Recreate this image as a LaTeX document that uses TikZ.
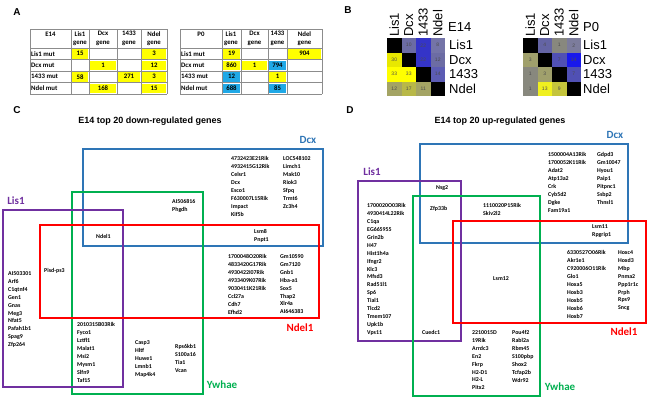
\documentclass[tikz,border=0pt]{standalone}
\usepackage{fontspec}
\setmainfont{Carlito}
\newfontfamily\arialfont{Liberation Sans}
\usetikzlibrary{positioning}
\definecolor{dcxc}{HTML}{2E75B6}
\definecolor{lisc}{HTML}{7030A0}
\definecolor{ywc}{HTML}{00B050}
\definecolor{ndc}{HTML}{FF0000}
\definecolor{hiy}{HTML}{FFFF00}
\definecolor{hib}{HTML}{1FA8E6}
\definecolor{gridc}{HTML}{8C8C8C}
% heat-map shades
\definecolor{hmA}{HTML}{6C6CA4}
\definecolor{hmB}{HTML}{3434C8}
\definecolor{hmC}{HTML}{7474A8}
\definecolor{hmD}{HTML}{E8E800}
\definecolor{hmE}{HTML}{5C5CB4}
\definecolor{hmF}{HTML}{A4A464}
\definecolor{hmG}{HTML}{B8B848}
\definecolor{hmH}{HTML}{88887E}
\definecolor{hmI}{HTML}{7C7C9C}
\definecolor{hmJ}{HTML}{A0A06C}
\definecolor{hmK}{HTML}{5050B4}
\definecolor{hmL}{HTML}{1818EC}
\definecolor{hmM}{HTML}{F0F020}
\definecolor{hmN}{HTML}{C4C43C}
\definecolor{hmO}{HTML}{6464A4}
\tikzset{
  panel/.style={font=\arialfont\bfseries\fontsize{10}{12}\selectfont,inner sep=0pt},
  ptitle/.style={font=\arialfont\bfseries\fontsize{9}{11}\selectfont,inner sep=0pt},
  tgrid/.style={draw=gridc,line width=0.5pt},
  tcell/.style={font=\bfseries\fontsize{6.8}{8.5}\selectfont,inner sep=0pt,align=center},
  rlab/.style={tcell,anchor=west},
  mcell/.style={minimum size=14.5pt,inner sep=0pt,font=\arialfont\fontsize{5}{5}\selectfont,text=black!70},
  mlab/.style={font=\arialfont\fontsize{13}{14}\selectfont,inner sep=0pt,anchor=west},
  mcol/.style={mlab,rotate=90},
  venn/.style={line width=1.8pt},
  glist/.style={font=\bfseries\fontsize{5.9}{7.9}\selectfont,align=left,inner sep=0pt,anchor=north west},
  vlab/.style={font=\bfseries\fontsize{11}{12}\selectfont,inner sep=0pt},
}

\begin{document}
\begin{tikzpicture}[x=1pt,y=-1pt]
  \useasboundingbox[fill=white] (0,0) rectangle (650,400);
  \node[panel] (pA) at (17,12) {A};
  \node[panel] (pB) at (348,10) {B};
  \node[panel] (pC) at (17,110) {C};
  \node[panel] (pD) at (350,110) {D};

  % table E14
  \foreach \xl/\xr/\yt/\v/\f [count=\i] in {71/89/48/15/hiy,141/167/48/3/hiy,89/117/59.5/1/hiy,
      141/167/59.5/12/hiy,71/89/71/58/hiy,117/141/71/271/hiy,141/167/71/3/hiy,89/117/82.5/168/hiy,
      141/167/82.5/15/hiy}{
    \fill[\f] (\xl+1,\yt+1) rectangle (\xr-1,\yt+10.5);
    \node[tcell] (ev\i) at ({(\xl+\xr)/2},\yt+5.75) {\v};
  }
  \foreach \x in {30,71,89,117,141,167} \draw[tgrid] (\x,29) -- (\x,94);
  \foreach \y in {29,48,59.5,71,82.5,94} \draw[tgrid] (30,\y) -- (167,\y);
  \node[tcell] (eh) at (50.5,34) {E14};
  \foreach \x/\g [count=\i] in {80/Lis1,103/Dcx,129/1433,154/Ndel}
    \node[tcell] (eg\i) at (\x,38.5) {\g\\gene};
  \foreach \y/\g [count=\i] in {53.75/Lis1,65.25/Dcx,76.75/1433,88.25/Ndel}
    \node[rlab] (em\i) at (31,\y) {\g{} mut};

  % table P0
  \foreach \xl/\xr/\yt/\v/\f [count=\i] in {222/241/48/19/hiy,287/322/48/904/hiy,222/241/59.5/860/hiy,
      241/268/59.5/1/hiy,268/287/59.5/794/hib,222/241/71/12/hib,268/287/71/1/hiy,222/241/82.5/688/hib,
      268/287/82.5/85/hib}{
    \fill[\f] (\xl+1,\yt+1) rectangle (\xr-1,\yt+10.5);
    \node[tcell] (pv\i) at ({(\xl+\xr)/2},\yt+5.75) {\v};
  }
  \foreach \x in {180,222,241,268,287,322} \draw[tgrid] (\x,29) -- (\x,94);
  \foreach \y in {29,48,59.5,71,82.5,94} \draw[tgrid] (180,\y) -- (322,\y);
  \node[tcell] (ph) at (201,34) {P0};
  \foreach \x/\g [count=\i] in {231/Lis1,254.5/Dcx,277.5/1433,304.5/Ndel}
    \node[tcell] (pg\i) at (\x,38.5) {\g\\gene};
  \foreach \y/\g [count=\i] in {53.75/Lis1,65.25/Dcx,76.75/1433,88.25/Ndel}
    \node[rlab] (pm\i) at (181,\y) {\g{} mut};

  % heat maps
  \foreach \r/\c/\f/\v in {0/0/black/,0/1/hmA/10,0/2/hmB/22,0/3/hmC/8,
      1/0/hmD/30,1/1/black/,1/2/hmB/22,1/3/hmA/12,
      2/0/hiy/33,2/1/hiy/33,2/2/black/,2/3/hmE/14,
      3/0/hmF/12,3/1/hmG/17,3/2/hmF/11,3/3/black/}
    \node[mcell,fill=\f] (e\r\c) at (394.25+\c*14.5,45.25+\r*14.5) {\v};
  \foreach \r/\c/\f/\v in {0/0/black/,0/1/hmO/4,0/2/hmH/1,0/3/hmI/2,
      1/0/hmJ/3,1/1/black/,1/2/hmK/7,1/3/hmL/14,
      2/0/hmH/1,2/1/hmJ/3,2/2/black/,2/3/hmK/7,
      3/0/hmH/1,3/1/hmM/13,3/2/hmN/9,3/3/black/}
    \node[mcell,fill=\f] (p\r\c) at (530.25+\c*14.5,45.25+\r*14.5) {\v};
  \foreach \g [count=\i from 0] in {Lis1,Dcx,1433,Ndel}{
    \node[mcol] (ecol\i) at (394.25+\i*14.5,37) {\g};
    \node[mcol] (pcol\i) at (530.25+\i*14.5,37) {\g};
    \node[mlab] (erow\i) at (449,45.25+\i*14.5) {\g};
    \node[mlab] (prow\i) at (583,45.25+\i*14.5) {\g};
  }
  \node[mlab] (eTag) at (448,27) {E14};
  \node[mlab] (pTag) at (583,27) {P0};

  % panel C
  \node[ptitle] (titleC) at (150,121) {E14 top 20 down-regulated genes};
  \draw[venn,dcxc] (83,149) rectangle (323,246);
  \draw[venn,ywc] (72,192) rectangle (203,394);
  \draw[venn,lisc] (3,210) rectangle (123,387);
  \draw[venn,ndc] (40,225) rectangle (319,318);
  \node[vlab,text=dcxc] (cDcx) at (308,140) {Dcx};
  \node[vlab,text=ywc] (cYw) at (222,385) {Ywhae};
  \node[vlab,text=lisc] (cLis) at (16,201) {Lis1};
  \node[vlab,text=ndc] (cNd) at (300,328) {Ndel1};
  \node[glist] (cD1) at (231,156.5) {4732423E21Rik\\4932415G12Rik\\Celsr1\\Dcx\\Esco1\\F630007L15Rik\\Impact\\Kif5b};
  \node[glist] (cD2) at (283,156.5) {LOC548102\\Limch1\\Mak10\\Riok3\\Sfpq\\Trmt6\\Zc3h4};
  \node[glist] (cDY) at (172,199.5) {AI506816\\Phgdh};
  \node[glist] (cAll) at (96,234.5) {Ndel1};
  \node[glist] (cDN) at (254,229.5) {Lsm8\\Pnpt1};
  \node[glist] (cN1) at (228,254.5) {1700048O20Rik\\4833420G17Rik\\4930422I07Rik\\4933409K07Rik\\9030411K21Rik\\Ccl27a\\Cdh7\\Efhd2};
  \node[glist] (cN2) at (280,254.5) {Gm10590\\Gm7120\\Gnb1\\Hba-a1\\Sox5\\Thap2\\Xlr4a\\AI646383};
  \node[glist] (cLN) at (44,268.5) {Pisd-ps3};
  \node[glist] (cL) at (8,271.5) {AI503301\\Arf6\\C1qtnf4\\Gen1\\Gnas\\Meg3\\Nfat5\\Pafah1b1\\Spag9\\Zfp264};
  \node[glist] (cLY) at (77,322.5) {2010315B03Rik\\Fyco1\\Lztfl1\\Malat1\\Msi2\\Mysm1\\Slfn9\\Taf15};
  \node[glist] (cY1) at (135,340.5) {Casp3\\Hltf\\Huwe1\\Lmnb1\\Map4k4};
  \node[glist] (cY2) at (175,344.5) {Rps6kb1\\S100a16\\Tia1\\Vcan};

  % panel D
  \node[ptitle] (titleD) at (500,121) {E14 top 20 up-regulated genes};
  \draw[venn,dcxc] (420,144) rectangle (628,243);
  \draw[venn,lisc] (358,181) rectangle (461,341);
  \draw[venn,ywc] (413,196) rectangle (540,396);
  \draw[venn,ndc] (453,221) rectangle (646,323);
  \node[vlab,text=dcxc] (dDcx) at (615,135) {Dcx};
  \node[vlab,text=lisc] (dLis) at (372,172) {Lis1};
  \node[vlab,text=ywc] (dYw) at (560,387) {Ywhae};
  \node[vlab,text=ndc] (dNd) at (624,332) {Ndel1};
  \node[glist] (dD1) at (548,152.5) {1500004A13Rik\\1700052K11Rik\\Adat2\\Atp13a2\\Crk\\Cyb5d2\\Dgke\\Fam19a1};
  \node[glist] (dD2) at (597,152.5) {Gdpd3\\Gm10047\\Hyou1\\Paip1\\Pitpnc1\\Ssbp2\\Thnsl1};
  \node[glist] (dLD) at (436,185.5) {Nsg2};
  \node[glist] (dLDY) at (430,206.5) {Zfp33b};
  \node[glist] (dDY) at (483,203.5) {1110020P15Rik\\Skiv2l2};
  \node[glist] (dDN) at (592,224.5) {Lsm11\\Rpgrip1};
  \node[glist] (dL) at (367,203.5) {1700020O03Rik\\4930414L22Rik\\C1qa\\EG665955\\Grin2b\\H47\\Hist1h4a\\Ifngr2\\Klc3\\Mfsd3\\Rad51l1\\Sp6\\Tial1\\Tlcd2\\Tmem107\\Upk1b\\Vps11};
  \node[glist] (dYN) at (493,276.5) {Lsm12};
  \node[glist] (dLY) at (422,330.5) {Cuedc1};
  \node[glist] (dN1) at (567,250.5) {6330527O06Rik\\Akr1e1\\C920006O11Rik\\Glo1\\Hoxa5\\Hoxb3\\Hoxb5\\Hoxb6\\Hoxb7};
  \node[glist] (dN2) at (618,250.5) {Hoxc4\\Hoxd3\\Mbp\\Pnma2\\Ppp1r1c\\Prph\\Rps9\\Sncg};
  \node[glist] (dY1) at (472,330.5) {2210015D\\19Rik\\Arrdc3\\En2\\Fkrp\\H2-D1\\H2-L\\Pitx2};
  \node[glist] (dY2) at (512,330.5) {Pou4f2\\Rabl2a\\Rbm45\\S100pbp\\Shox2\\Tcfap2b\\Wdr92};
\end{tikzpicture}
\end{document}
